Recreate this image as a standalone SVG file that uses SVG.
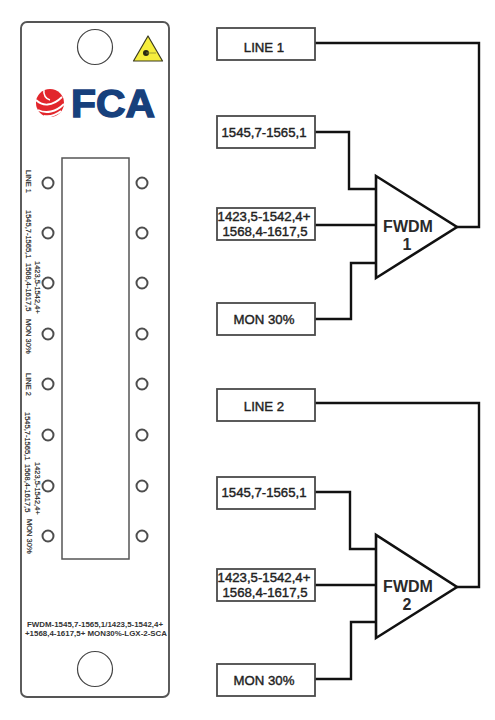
<svg xmlns="http://www.w3.org/2000/svg" width="495" height="720" viewBox="0 0 495 720">
<style>
.box{fill:#fff;stroke:#4a4a4a;stroke-width:1.8}
.wire{fill:none;stroke:#111;stroke-width:2.4;stroke-linejoin:miter}
.tri{fill:#fff;stroke:#111;stroke-width:2.6;stroke-linejoin:miter}
.lbl{font-family:"Liberation Sans",Arial,sans-serif;font-size:13.2px;fill:#222;stroke:#222;stroke-width:.4;text-anchor:middle}
.fw{font-family:"Liberation Sans",Arial,sans-serif;font-size:16px;font-weight:bold;fill:#2a2a2a;text-anchor:middle}
.port{fill:#fff;stroke:#4d4d4d;stroke-width:2}
.hole{fill:#fff;stroke:#444;stroke-width:1.2}
.rot{font-family:"Liberation Sans",Arial,sans-serif;font-size:7.5px;fill:#222;stroke:#222;stroke-width:.15}
.part{font-family:"Liberation Sans",Arial,sans-serif;font-size:7px;font-weight:bold;fill:#333;text-anchor:middle}
</style>
<rect width="495" height="720" fill="#fff"/>
<g id="panel">
<rect x="21" y="22" width="148" height="675" rx="6" fill="#fff" stroke="#555" stroke-width="1.9"/>
<circle class="hole" cx="95" cy="47" r="17.5"/>
<circle class="hole" cx="95" cy="669" r="17.5"/>
<g id="laser-warning">
<path d="M148 36L133.500 61H162.500Z" fill="#f6ee3c" stroke="#3a3a20" stroke-width="1.2" stroke-linejoin="round"/>
<circle cx="146" cy="53" r="3" fill="#2a2a14"/>
<path d="M146 53H156" stroke="#8a8a30" stroke-width=".8"/>
</g>
<g id="logo">
<circle cx="50" cy="103" r="14" fill="#e2262c"/>
<path d="M36 100C42 106 52 107 62 97M38 110C46 114 56 112 64 104M44 116C50 117 56 115 61 111" fill="none" stroke="#fff" stroke-width="1.800"/>
<path d="M44 90C43 95 46 99 50 100" fill="none" stroke="#fff" stroke-width="1.500"/>
<text x="71" y="117" font-family="'Liberation Sans',Arial,sans-serif" font-size="38" font-weight="bold" fill="#17407c" stroke="#17407c" stroke-width="1.400" textLength="84" lengthAdjust="spacingAndGlyphs">FCA</text>
</g>
<rect x="62" y="158" width="67" height="401" fill="#fff" stroke="#555" stroke-width="1.5"/>
<g id="ports-left">
<circle class="port" cx="48" cy="183" r="5.500"/><circle class="port" cx="48" cy="233" r="5.500"/><circle class="port" cx="48" cy="283" r="5.500"/><circle class="port" cx="48" cy="334" r="5.500"/><circle class="port" cx="48" cy="384" r="5.500"/><circle class="port" cx="48" cy="435" r="5.500"/><circle class="port" cx="48" cy="486" r="5.500"/><circle class="port" cx="48" cy="536" r="5.500"/>
</g>
<g id="ports-right">
<circle class="port" cx="142" cy="183" r="5.500"/><circle class="port" cx="142" cy="233" r="5.500"/><circle class="port" cx="142" cy="283" r="5.500"/><circle class="port" cx="142" cy="334" r="5.500"/><circle class="port" cx="142" cy="384" r="5.500"/><circle class="port" cx="142" cy="435" r="5.500"/><circle class="port" cx="142" cy="486" r="5.500"/><circle class="port" cx="142" cy="536" r="5.500"/>
</g>
<g id="panel-labels">
<text class="rot" transform="translate(25.500 170) rotate(90)">LINE 1</text>
<text class="rot" transform="translate(25.500 210) rotate(90)">1545,7-1565,1</text>
<text class="rot" transform="translate(34.500 261) rotate(90)">1423,5-1542,4+</text>
<text class="rot" transform="translate(25.500 263) rotate(90)">1568,4-1617,5</text>
<text class="rot" transform="translate(25.500 319) rotate(90)">MON 30%</text>
<text class="rot" transform="translate(25.500 373) rotate(90)">LINE 2</text>
<text class="rot" transform="translate(24.500 412) rotate(90)">1545,7-1565,1</text>
<text class="rot" transform="translate(34.500 462) rotate(90)">1423,5-1542,4+</text>
<text class="rot" transform="translate(24.500 464) rotate(90)">1568,4-1617,5</text>
<text class="rot" transform="translate(27 519) rotate(90)">MON 30%</text>
<text class="part" x="95" y="626.500" textLength="136" lengthAdjust="spacingAndGlyphs">FWDM-1545,7-1565,1/1423,5-1542,4+</text>
<text class="part" x="96" y="635.500" textLength="142" lengthAdjust="spacingAndGlyphs">+1568,4-1617,5+ MON30%-LGX-2-SCA</text>
</g>
</g>
<g id="connectors">
<path class="wire" d="M315 43H479V227H457"/>
<path class="wire" d="M315 132H349V189H376"/>
<path class="wire" d="M315 225H376"/>
<path class="wire" d="M315 319H351V263H376"/>
<path class="wire" d="M315 403H479V587H457"/>
<path class="wire" d="M315 492H350V549H376"/>
<path class="wire" d="M315 585H376"/>
<path class="wire" d="M315 679H351V622H376"/>
</g>
<g id="line1"><rect class="box" x="217" y="28" width="98" height="32"/><text class="lbl" x="264" y="52">LINE 1</text></g>
<g id="band1a"><rect class="box" x="217" y="116" width="98" height="32"/><text class="lbl" x="264" y="137">1545,7-1565,1</text></g>
<g id="band1b"><rect class="box" x="217" y="208" width="98" height="32"/><text class="lbl" x="264" y="221">1423,5-1542,4+</text><text class="lbl" x="265" y="236">1568,4-1617,5</text></g>
<g id="mon1"><rect class="box" x="217" y="303" width="98" height="32"/><text class="lbl" x="264" y="324">MON 30%</text></g>
<g id="fwdm1"><path class="tri" d="M376 176V278L457 227Z"/><text class="fw" x="408" y="232">FWDM</text><text class="fw" x="407" y="250">1</text></g>
<g id="line2"><rect class="box" x="217" y="389" width="98" height="32"/><text class="lbl" x="264" y="411">LINE 2</text></g>
<g id="band2a"><rect class="box" x="217" y="477" width="98" height="32"/><text class="lbl" x="264" y="497">1545,7-1565,1</text></g>
<g id="band2b"><rect class="box" x="217" y="569" width="98" height="32"/><text class="lbl" x="264" y="582">1423,5-1542,4+</text><text class="lbl" x="265" y="597">1568,4-1617,5</text></g>
<g id="mon2"><rect class="box" x="217" y="664" width="98" height="32"/><text class="lbl" x="264" y="685">MON 30%</text></g>
<g id="fwdm2"><path class="tri" d="M376 535V638L457 587Z"/><text class="fw" x="408" y="592">FWDM</text><text class="fw" x="407" y="610">2</text></g>
</svg>
